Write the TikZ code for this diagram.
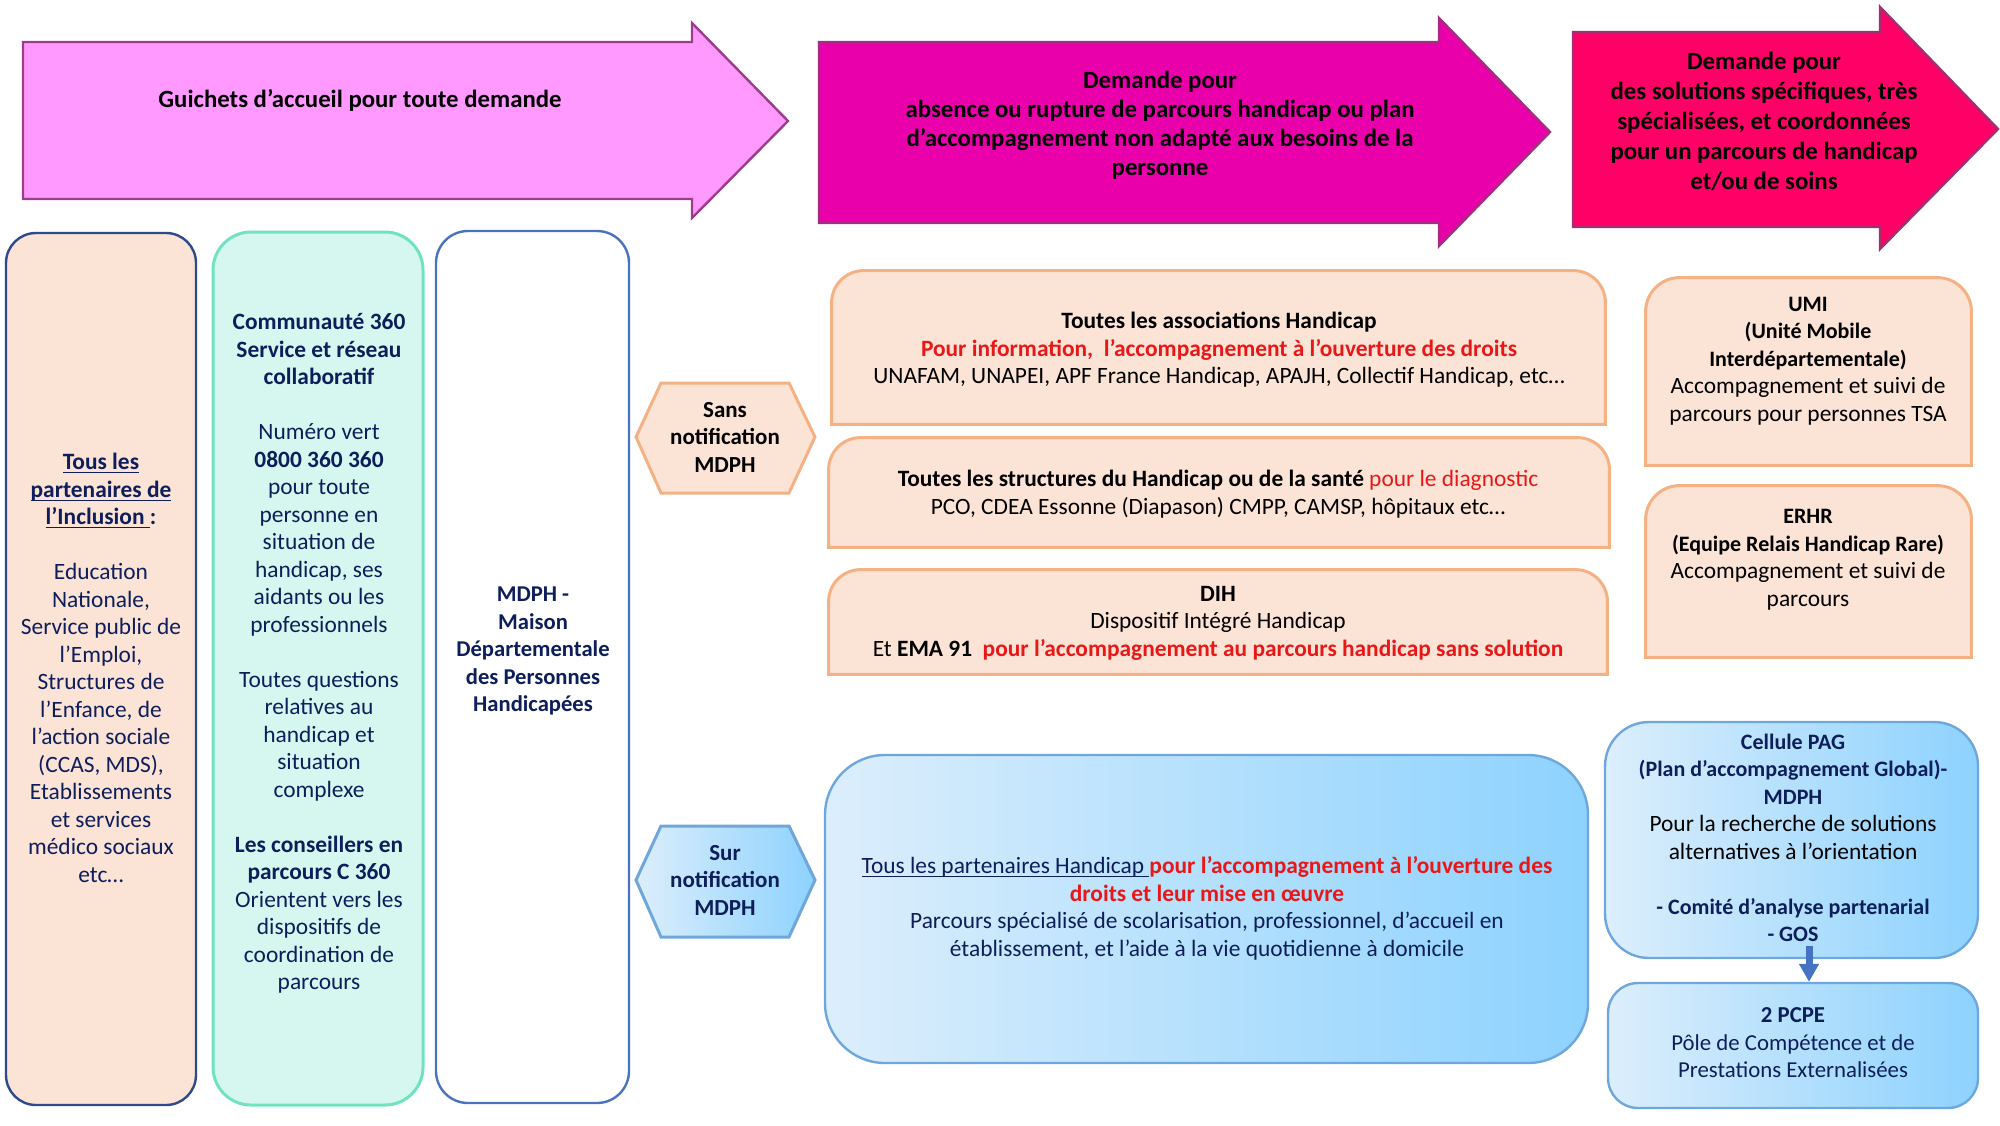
\documentclass[tikz,border=0pt]{standalone}
\usepackage{fontspec}
\setmainfont{Carlito}
\usetikzlibrary{arrows.meta}
\newsavebox\myulbox
\newcommand{\myul}[1]{\sbox\myulbox{#1}\rlap{\rule[-1.7pt]{\wd\myulbox}{0.6pt}}\usebox\myulbox}
\newcommand{\narrowbold}[1]{{\fontsize{11}{13.75}\selectfont\bfseries #1}}
\definecolor{navy}{HTML}{0E1E5B}
\definecolor{redtxt}{HTML}{E81818}
\definecolor{pinkA}{HTML}{FF99FF}
\definecolor{pinkAline}{HTML}{9C3D8A}
\definecolor{magB}{HTML}{EA00AB}
\definecolor{magBline}{HTML}{A0307F}
\definecolor{redC}{HTML}{FF0066}
\definecolor{redCline}{HTML}{A03070}
\definecolor{peach}{HTML}{FBE3D6}
\definecolor{peachline}{HTML}{F4B183}
\definecolor{col1line}{HTML}{2E4A8A}
\definecolor{greenfill}{HTML}{D6F7EF}
\definecolor{greenline}{HTML}{6FE3BF}
\definecolor{col3line}{HTML}{4A72C0}
\definecolor{bluel}{HTML}{DCEEFC}
\definecolor{bluer}{HTML}{8DD2FE}
\definecolor{blueline}{HTML}{6FA6DB}
\definecolor{arrowblue}{HTML}{4472C4}
\begin{document}
\begin{tikzpicture}[x=0.5pt,y=-0.5pt,
  every node/.style={font=\fontsize{11.7}{13.75}\selectfont, align=center, inner sep=0pt},
  bigarrowtext/.style={font=\fontsize{12.4}{14.5}\selectfont\bfseries, text=black},
  shapeonly/.style={draw=none, fill=none},
  peachshape/.style={fill=peach, draw=peachline, line width=1.5pt},
  blueshape/.style={left color=bluel, right color=bluer, draw=blueline, line width=1.2pt},
]
\useasboundingbox (0,0) rectangle (2000,1125);

% ---- top block arrows ----
\draw[fill=pinkA, draw=pinkAline, line width=1.2pt]
  (23,42) -- (692,42) -- (692,23) -- (788,121) -- (692,218) -- (692,199) -- (23,199) -- cycle;
\node[bigarrowtext] (guichets) at (360,100) {Guichets d’accueil pour toute demande};

\draw[fill=magB, draw=magBline, line width=1.2pt]
  (819,42) -- (1439,42) -- (1439,18) -- (1550,132) -- (1439,246) -- (1439,223) -- (819,223) -- cycle;
\node[bigarrowtext] (demande1) at (1160,125) {Demande pour\\absence ou rupture de parcours handicap ou plan\\d’accompagnement non adapté aux besoins de la\\personne};

\draw[fill=redC, draw=redCline, line width=1.2pt]
  (1573,32) -- (1880,32) -- (1880,7) -- (1998,129) -- (1880,249) -- (1880,227) -- (1573,227) -- cycle;
\node[bigarrowtext, font=\fontsize{12.4}{15}\selectfont\bfseries] (demande2) at (1764,121) {Demande pour\\des solutions spécifiques, très\\spécialisées, et coordonnées\\pour un parcours de handicap\\et/ou de soins};

% ---- left columns ----
\node[fill=peach, draw=col1line, line width=1.2pt, rounded corners=15pt,
      minimum width=95pt, minimum height=436pt] (inclusion) at (101,669) {};
\node[text=navy] (inclusiontext) at (101,668) {%
  \textbf{\myul{Tous les}}\\
  \textbf{\myul{partenaires de}}\\
  \textbf{\myul{l’Inclusion }:}\\[13.75pt]
  Education\\Nationale,\\Service public de\\l’Emploi,\\Structures de\\l’Enfance, de\\l’action sociale\\(CCAS, MDS),\\Etablissements\\et services\\médico sociaux\\etc…};

\node[fill=greenfill, draw=greenline, line width=1.5pt, rounded corners=19pt,
      minimum width=105pt, minimum height=436.5pt] (c360) at (318,668.5) {};
\node[text=navy] (c360text) at (319,653.5) {%
  \textbf{Communauté 360}\\
  \textbf{Service et réseau}\\
  \textbf{collaboratif}\\[13.75pt]
  Numéro vert\\
  \textbf{0800 360 360}\\
  pour toute\\personne en\\situation de\\handicap, ses\\aidants ou les\\professionnels\\[13.75pt]
  Toutes questions\\relatives au\\handicap et\\situation\\complexe\\[13.75pt]
  \textbf{Les conseillers en}\\
  \textbf{parcours C 360}\\
  Orientent vers les\\dispositifs de\\coordination de\\parcours};

\node[fill=white, draw=col3line, line width=1.2pt, rounded corners=16pt,
      minimum width=96.5pt, minimum height=436pt] (mdph) at (532.5,667) {};
\node[text=navy, font=\fontsize{11.3}{13.75}\selectfont\bfseries] (mdphtext) at (533,651) {%
  MDPH -\\Maison\\Départementale\\des Personnes\\Handicapées};

% ---- hexagons ----
\draw[fill=peach, draw=peachline, line width=1.5pt]
  (636,437) -- (661,383) -- (789,383) -- (815,437) -- (789,493) -- (661,493) -- cycle;
\node[font=\fontsize{11.5}{13.75}\selectfont\bfseries, text=black] (sans) at (725,437) {Sans\\notification\\MDPH};

\draw[left color=bluel, right color=bluer, draw=blueline, line width=1.5pt]
  (636,880) -- (661,826) -- (789,826) -- (815,880) -- (789,937) -- (661,937) -- cycle;
\node[font=\fontsize{11.5}{13.75}\selectfont\bfseries, text=navy] (sur) at (725,880) {Sur\\notification\\MDPH};

% ---- peach boxes (top corners rounded) ----
\node[shapeonly, minimum width=386.5pt, minimum height=76.5pt] (assoc) at (1218.5,347.5) {};
\draw[peachshape] (assoc.south west) -- ([yshift=-16pt]assoc.north west)
  arc[start angle=180, end angle=90, radius=16pt] -- ([xshift=-16pt]assoc.north east)
  arc[start angle=90, end angle=0, radius=16pt] -- (assoc.south east) -- cycle;
\node[text=black] (assoctext) at (1219,350) {%
  \textbf{Toutes les associations Handicap}\\
  \textcolor{redtxt}{\textbf{Pour information,\ \ l’accompagnement à l’ouverture des droits}}\\
  UNAFAM, UNAPEI, APF France Handicap, APAJH, Collectif Handicap, etc…};

\node[shapeonly, minimum width=390pt, minimum height=54.5pt] (struct) at (1219,492.5) {};
\draw[peachshape] (struct.south west) -- ([yshift=-16pt]struct.north west)
  arc[start angle=180, end angle=90, radius=16pt] -- ([xshift=-16pt]struct.north east)
  arc[start angle=90, end angle=0, radius=16pt] -- (struct.south east) -- cycle;
\node[text=black] (structtext) at (1218,494) {%
  \textbf{Toutes les structures du Handicap ou de la santé} \textcolor{redtxt}{pour le diagnostic}\\
  PCO, CDEA Essonne (Diapason) CMPP, CAMSP, hôpitaux etc…};

\node[shapeonly, minimum width=389pt, minimum height=52pt] (dih) at (1218,622) {};
\draw[peachshape] (dih.south west) -- ([yshift=-16pt]dih.north west)
  arc[start angle=180, end angle=90, radius=16pt] -- ([xshift=-16pt]dih.north east)
  arc[start angle=90, end angle=0, radius=16pt] -- (dih.south east) -- cycle;
\node[text=black] (dihtext) at (1218,623) {%
  \textbf{DIH}\\
  Dispositif Intégré Handicap\\
  Et \textbf{EMA 91}\ \ \textcolor{redtxt}{\textbf{pour l’accompagnement au parcours handicap sans solution}}};

\node[shapeonly, minimum width=162.5pt, minimum height=93.5pt] (umi) at (1808.5,371.5) {};
\draw[peachshape] (umi.south west) -- ([yshift=-17pt]umi.north west)
  arc[start angle=180, end angle=90, radius=17pt] -- ([xshift=-17pt]umi.north east)
  arc[start angle=90, end angle=0, radius=17pt] -- (umi.south east) -- cycle;
\node[text=black] (umitext) at (1808,361) {%
  \narrowbold{UMI}\\
  \narrowbold{(Unité Mobile}\\
  \narrowbold{Interdépartementale)}\\
  Accompagnement et suivi de\\
  parcours\ pour\ personnes\ TSA};

\node[shapeonly, minimum width=162.5pt, minimum height=85.5pt] (erhr) at (1808.5,571.5) {};
\draw[peachshape] (erhr.south west) -- ([yshift=-17pt]erhr.north west)
  arc[start angle=180, end angle=90, radius=17pt] -- ([xshift=-17pt]erhr.north east)
  arc[start angle=90, end angle=0, radius=17pt] -- (erhr.south east) -- cycle;
\node[text=black] (erhrtext) at (1808,559.5) {%
  \narrowbold{ERHR}\\
  \narrowbold{(Equipe Relais Handicap Rare)}\\
  Accompagnement et suivi de\\
  parcours};

% ---- blue boxes ----
\node[blueshape, rounded corners=30pt, minimum width=381.5pt, minimum height=154pt] (partenaires) at (1206.5,909) {};
\node[text=navy] (partenairestext) at (1207,908.5) {%
  \myul{Tous les partenaires Handicap }\textcolor{redtxt}{\textbf{pour l’accompagnement à l’ouverture des}}\\
  \textcolor{redtxt}{\textbf{droits et leur mise en œuvre}}\\
  Parcours spécialisé de scolarisation, professionnel, d’accueil en\\
  établissement, et l’aide à la vie quotidienne à domicile};

\node[blueshape, rounded corners=22pt, minimum width=186.5pt, minimum height=118pt] (pag) at (1791.5,840) {};
\node[text=navy] (pagtext) at (1793,838) {%
  \narrowbold{Cellule PAG}\\
  \narrowbold{(Plan d’accompagnement Global)-}\\
  \narrowbold{MDPH}\\
  \textcolor{black}{Pour la recherche de solutions}\\
  \textcolor{black}{alternatives à l’orientation}\\[13.75pt]
  \narrowbold{- Comité d’analyse partenarial}\\
  \narrowbold{- GOS}};

\node[blueshape, rounded corners=15pt, minimum width=185pt, minimum height=62.5pt] (pcpe) at (1793,1045.5) {};
\node[text=navy, font=\fontsize{11.4}{13.75}\selectfont] (pcpetext) at (1793,1043) {%
  \textbf{2 PCPE}\\
  Pôle de Compétence et de\\
  Prestations Externalisées};

\draw[draw=arrowblue, line width=3.5pt, -{Triangle[width=9.5pt,length=9pt]}]
  ([xshift=8.75pt,yshift=6.5pt]pag.south) -- ([xshift=8pt]pcpe.north);

\end{tikzpicture}
\end{document}
